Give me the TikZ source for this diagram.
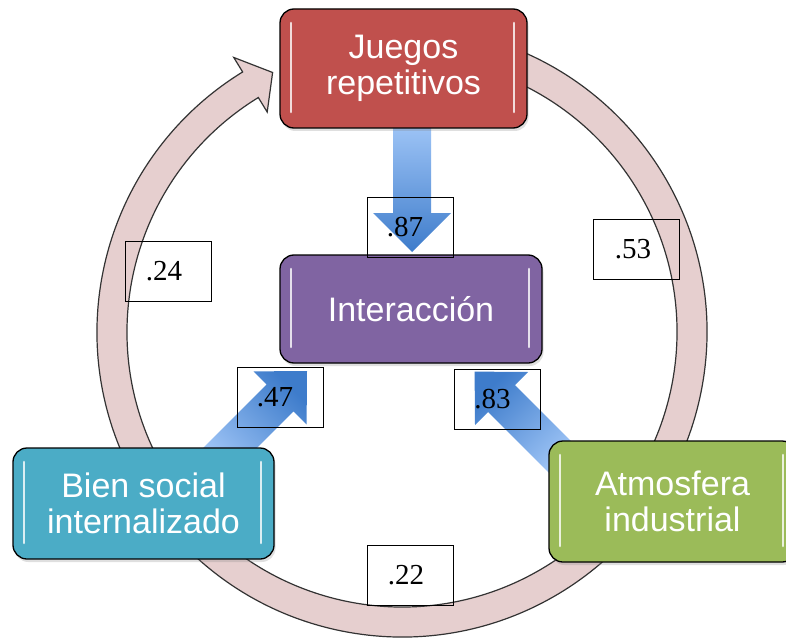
\documentclass[tikz,border=0pt]{standalone}
\usepackage{fontspec}
\setmainfont{Liberation Serif}
\newfontfamily\arialf{Liberation Sans}
\usetikzlibrary{calc,shadows}
\definecolor{jred}{HTML}{C0504D}
\definecolor{ipurple}{HTML}{8064A2}
\definecolor{bcyan}{HTML}{4BACC6}
\definecolor{agreen}{HTML}{9BBB59}
\definecolor{ringfill}{HTML}{E6CFCF}
\definecolor{ringline}{HTML}{333333}
\definecolor{blight}{HTML}{A3C8F8}
\definecolor{bdark}{HTML}{3E7CCB}
\begin{document}
\begin{tikzpicture}[x=1pt,y=-1pt,
  mainbox/.style={draw=black, line width=1.3pt, rounded corners=14pt, text=white,
    align=center, font=\arialf\fontsize{34}{36}\selectfont, inner sep=0pt,
    drop shadow={shadow xshift=1.5pt, shadow yshift=-3pt, opacity=.25},
    path picture={
      \draw[white, opacity=.8, line width=2.6pt, line cap=round]
        ([xshift=11pt,yshift=-14pt]path picture bounding box.north west) --
        ([xshift=11pt,yshift=16pt]path picture bounding box.south west)
        ([xshift=-13pt,yshift=-14pt]path picture bounding box.north east) --
        ([xshift=-13pt,yshift=16pt]path picture bounding box.south east);
    }},
  lbl/.style={draw=black, line width=0.8pt, minimum width=86pt, minimum height=60pt,
    inner sep=0pt, font=\fontsize{29}{31}\selectfont},
  ringstyle/.style={fill=ringfill, draw=ringline, line width=1.2pt},
  blockarrow/.style={draw=none}]
\fill[white] (0,0) rectangle (786,639);
\clip (0,0) rectangle (786,639);

% circular arrow
\coordinate (c) at (402,332);
\path[ringstyle] ($(c)+(-80:305)$) arc[start angle=-80, end angle=238.5, radius=305]
  -- ($(c)+(238.5:322)$) -- ($(c)+(243.5:290)$) -- ($(c)+(238.5:258)$)
  -- ($(c)+(238.5:275)$) arc[start angle=238.5, end angle=-80, radius=275] -- cycle;

% blue block arrows
\shade[blockarrow, top color=blight, bottom color=bdark]
  (393,118) -- (393,213) -- (373,213) -- (412,252) -- (451,213) -- (431,213) -- (431,118) -- cycle;
\shade[blockarrow, top color=bdark, bottom color=blight, shading angle=-45]
  (198.1,453.1) -- (266.7,384.5) -- (253.6,371.4) -- (307,371) -- (306.6,424.4)
  -- (293.5,411.3) -- (224.9,479.9) -- cycle;
\shade[blockarrow, top color=bdark, bottom color=blight, shading angle=45]
  (579.9,450.1) -- (514.9,385.1) -- (528,372) -- (474.6,371.6) -- (475,425)
  -- (488.1,411.9) -- (553.1,476.9) -- cycle;

% boxes
\node[mainbox, fill=jred, minimum width=247pt, minimum height=119pt] (juegos) at (403.5,68.5) {Juegos\\repetitivos};
\node[mainbox, fill=ipurple, minimum width=262pt, minimum height=108pt] (inter) at (411,309) {Interacción};
\node[mainbox, fill=bcyan, minimum width=261pt, minimum height=111pt] (bien) at (143.5,503.5) {Bien social\\internalizado};
\node[mainbox, fill=agreen, minimum width=247pt, minimum height=121pt] (atmos) at (672.5,501.5) {Atmosfera\\industrial};

% labels
\node[lbl] (l87) at (410,227) {\hspace*{-10pt}.87};
\node[lbl] (l24) at (168,271) {\hspace*{-8pt}.24};
\node[lbl] (l53) at (636,249) {\hspace*{-6pt}.53};
\node[lbl] (l47) at (280,397) {\hspace*{-10pt}.47};
\node[lbl] (l83) at (497.5,399) {\hspace*{-10pt}.83};
\node[lbl] (l22) at (410,575) {\hspace*{-8pt}.22};
\end{tikzpicture}
\end{document}
